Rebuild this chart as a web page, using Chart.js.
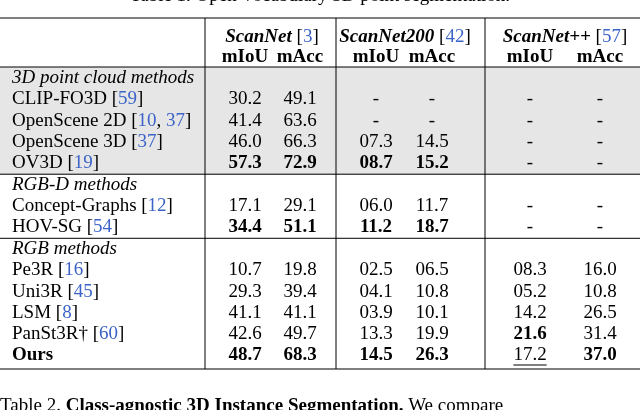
<!DOCTYPE html>
<html><head><meta charset="utf-8">
<script src="https://cdn.jsdelivr.net/npm/chart.js@4"></script>
<style>body{margin:0;background:#fff}#wrap{width:640px;height:410px}</style>
</head><body><div id="wrap"><canvas id="c"></canvas></div>
<script>
const groups = ['ScanNet [3]', 'ScanNet200 [42]', 'ScanNet++ [57]'];
const metrics = ['mIoU', 'mAcc', 'mIoU', 'mAcc', 'mIoU', 'mAcc'];
const sections = ['3D point cloud methods', 'RGB-D methods', 'RGB methods'];
const methods = [
  ['CLIP-FO3D [59]', 'OpenScene 2D [10, 37]', 'OpenScene 3D [37]', 'OV3D [19]'],
  ['Concept-Graphs [12]', 'HOV-SG [54]'],
  ['Pe3R [16]', 'Uni3R [45]', 'LSM [8]', 'PanSt3R\u2020 [60]', 'Ours']
];
const values = [
  [['30.2', '49.1', '-', '-', '-', '-'],
   ['41.4', '63.6', '-', '-', '-', '-'],
   ['46.0', '66.3', '07.3', '14.5', '-', '-'],
   ['57.3', '72.9', '08.7', '15.2', '-', '-']],
  [['17.1', '29.1', '06.0', '11.7', '-', '-'],
   ['34.4', '51.1', '11.2', '18.7', '-', '-']],
  [['10.7', '19.8', '02.5', '06.5', '08.3', '16.0'],
   ['29.3', '39.4', '04.1', '10.8', '05.2', '10.8'],
   ['41.1', '41.1', '03.9', '10.1', '14.2', '26.5'],
   ['42.6', '49.7', '13.3', '19.9', '21.6', '31.4'],
   ['48.7', '68.3', '14.5', '26.3', '17.2', '37.0']]
];
// "section,row,col" marks
const boldCells = ['0,3,0', '0,3,1', '0,3,2', '0,3,3', '1,1,0', '1,1,1', '1,1,2', '1,1,3',
  '2,4,0', '2,4,1', '2,4,2', '2,4,3', '2,3,4', '2,4,5'];
const underlineCells = ['2,4,4'];

const colX = [245, 300, 376, 432, 530, 600];
const groupX = [272, 405, 565];
const BLUE = '#3c64c8';
const FONT = '"Liberation Serif", "DejaVu Serif", serif';
const SIZE = 19;

function drawRich(ctx, text, x, y, style, align, refStyle) {
  // split into parts, brackets use refStyle, digits inside [] are blue
  const parts = [];
  let inBr = false;
  for (const ch of text) {
    if (ch === '[' || (ch === ' ' && text.indexOf('[') === text.indexOf(ch, 0) + 1 && false)) inBr = true;
    const isRef = inBr;
    const blue = inBr && /[0-9]/.test(ch);
    if (ch === ']') inBr = false;
    const last = parts[parts.length - 1];
    if (last && last.blue === blue && last.ref === isRef) last.t += ch; else parts.push({ t: ch, blue, ref: isRef });
  }
  const fontOf = p => ((p.ref && refStyle !== undefined) ? refStyle : style) + ' ' + SIZE + 'px ' + FONT;
  let w = 0;
  parts.forEach(p => { ctx.font = fontOf(p); w += ctx.measureText(p.t).width; });
  let px = align === 'center' ? x - w / 2 : x;
  ctx.textAlign = 'left';
  parts.forEach(p => {
    ctx.font = fontOf(p);
    ctx.fillStyle = p.blue ? BLUE : '#000';
    ctx.fillText(p.t, px, y);
    px += ctx.measureText(p.t).width;
  });
  return px;
}

const tablePlugin = {
  id: 'table',
  beforeDatasetsDraw(chart) {
    const ctx = chart.ctx, xs = chart.scales.x, ys = chart.scales.y;
    const X = v => xs.getPixelForValue(v), Y = v => ys.getPixelForValue(v);
    ctx.save();
    ctx.textBaseline = 'middle';
    ctx.fillStyle = '#e6e6e6';
    ctx.fillRect(X(0), Y(67), X(640) - X(0), Y(175) - Y(67));
    const hline = (y, w) => { ctx.strokeStyle = '#000'; ctx.lineWidth = w; ctx.beginPath(); ctx.moveTo(X(0), Y(y)); ctx.lineTo(X(640), Y(y)); ctx.stroke(); };
    const vline = (x, y0, y1) => { ctx.strokeStyle = '#000'; ctx.lineWidth = 1; ctx.beginPath(); ctx.moveTo(X(x), Y(y0)); ctx.lineTo(X(x), Y(y1)); ctx.stroke(); };
    ctx.fillStyle = '#000';
    ctx.font = SIZE + 'px ' + FONT;
    ctx.textAlign = 'center';
    ctx.fillText('Table 1. Open-vocabulary 3D point segmentation.', X(320), Y(-4));
    hline(18, 1.2);
    groups.forEach((g, i) => drawRich(ctx, g, X(groupX[i]), Y(37), 'italic bold', 'center', ''));
    metrics.forEach((m, i) => drawRich(ctx, m, X(colX[i]), Y(57), 'bold', 'center'));
    hline(67, 1);
    let y = 78;
    sections.forEach((s, si) => {
      drawRich(ctx, s, X(12), Y(y), 'italic', 'left');
      y += 21.5;
      methods[si].forEach((name, ri) => {
        const bold = name === 'Ours' ? 'bold' : '';
        drawRich(ctx, name, X(12), Y(y), bold, 'left');
        values[si][ri].forEach((v, ci) => {
          const key = si + ',' + ri + ',' + ci;
          drawRich(ctx, v, X(colX[ci]), Y(y), boldCells.includes(key) ? 'bold' : '', 'center');
          if (underlineCells.includes(key)) {
            const w = ctx.measureText(v).width;
            ctx.fillStyle = '#000';
            ctx.fillRect(X(colX[ci]) - w / 2, Y(y + 9), w, 1);
          }
        });
        y += 21.3;
      });
      if (si < sections.length - 1) hline(y - 10.5, 1);
    });
    hline(369, 1.2);
    [[205, 18, 369], [336, 18, 369], [485, 18, 369]].forEach(v => vline(v[0], v[1], v[2]));
    let cx = drawRich(ctx, 'Table 2. ', X(0), Y(406), '', 'left');
    cx = drawRich(ctx, 'Class-agnostic 3D Instance Segmentation.', cx, Y(406), 'bold', 'left');
    drawRich(ctx, ' We compare', cx, Y(406), '', 'left');
    ctx.restore();
  }
};

new Chart(document.getElementById('c'), {
  type: 'scatter',
  data: { datasets: [{ data: [{ x: 0, y: 0 }], pointRadius: 0 }] },
  options: {
    responsive: true, maintainAspectRatio: false, animation: false,
    layout: { padding: 0 },
    plugins: { legend: { display: false }, tooltip: { enabled: false } },
    scales: {
      x: { type: 'linear', min: 0, max: 640, display: false },
      y: { type: 'linear', min: 0, max: 410, reverse: true, display: false }
    }
  },
  plugins: [tablePlugin]
});
</script></body></html>
